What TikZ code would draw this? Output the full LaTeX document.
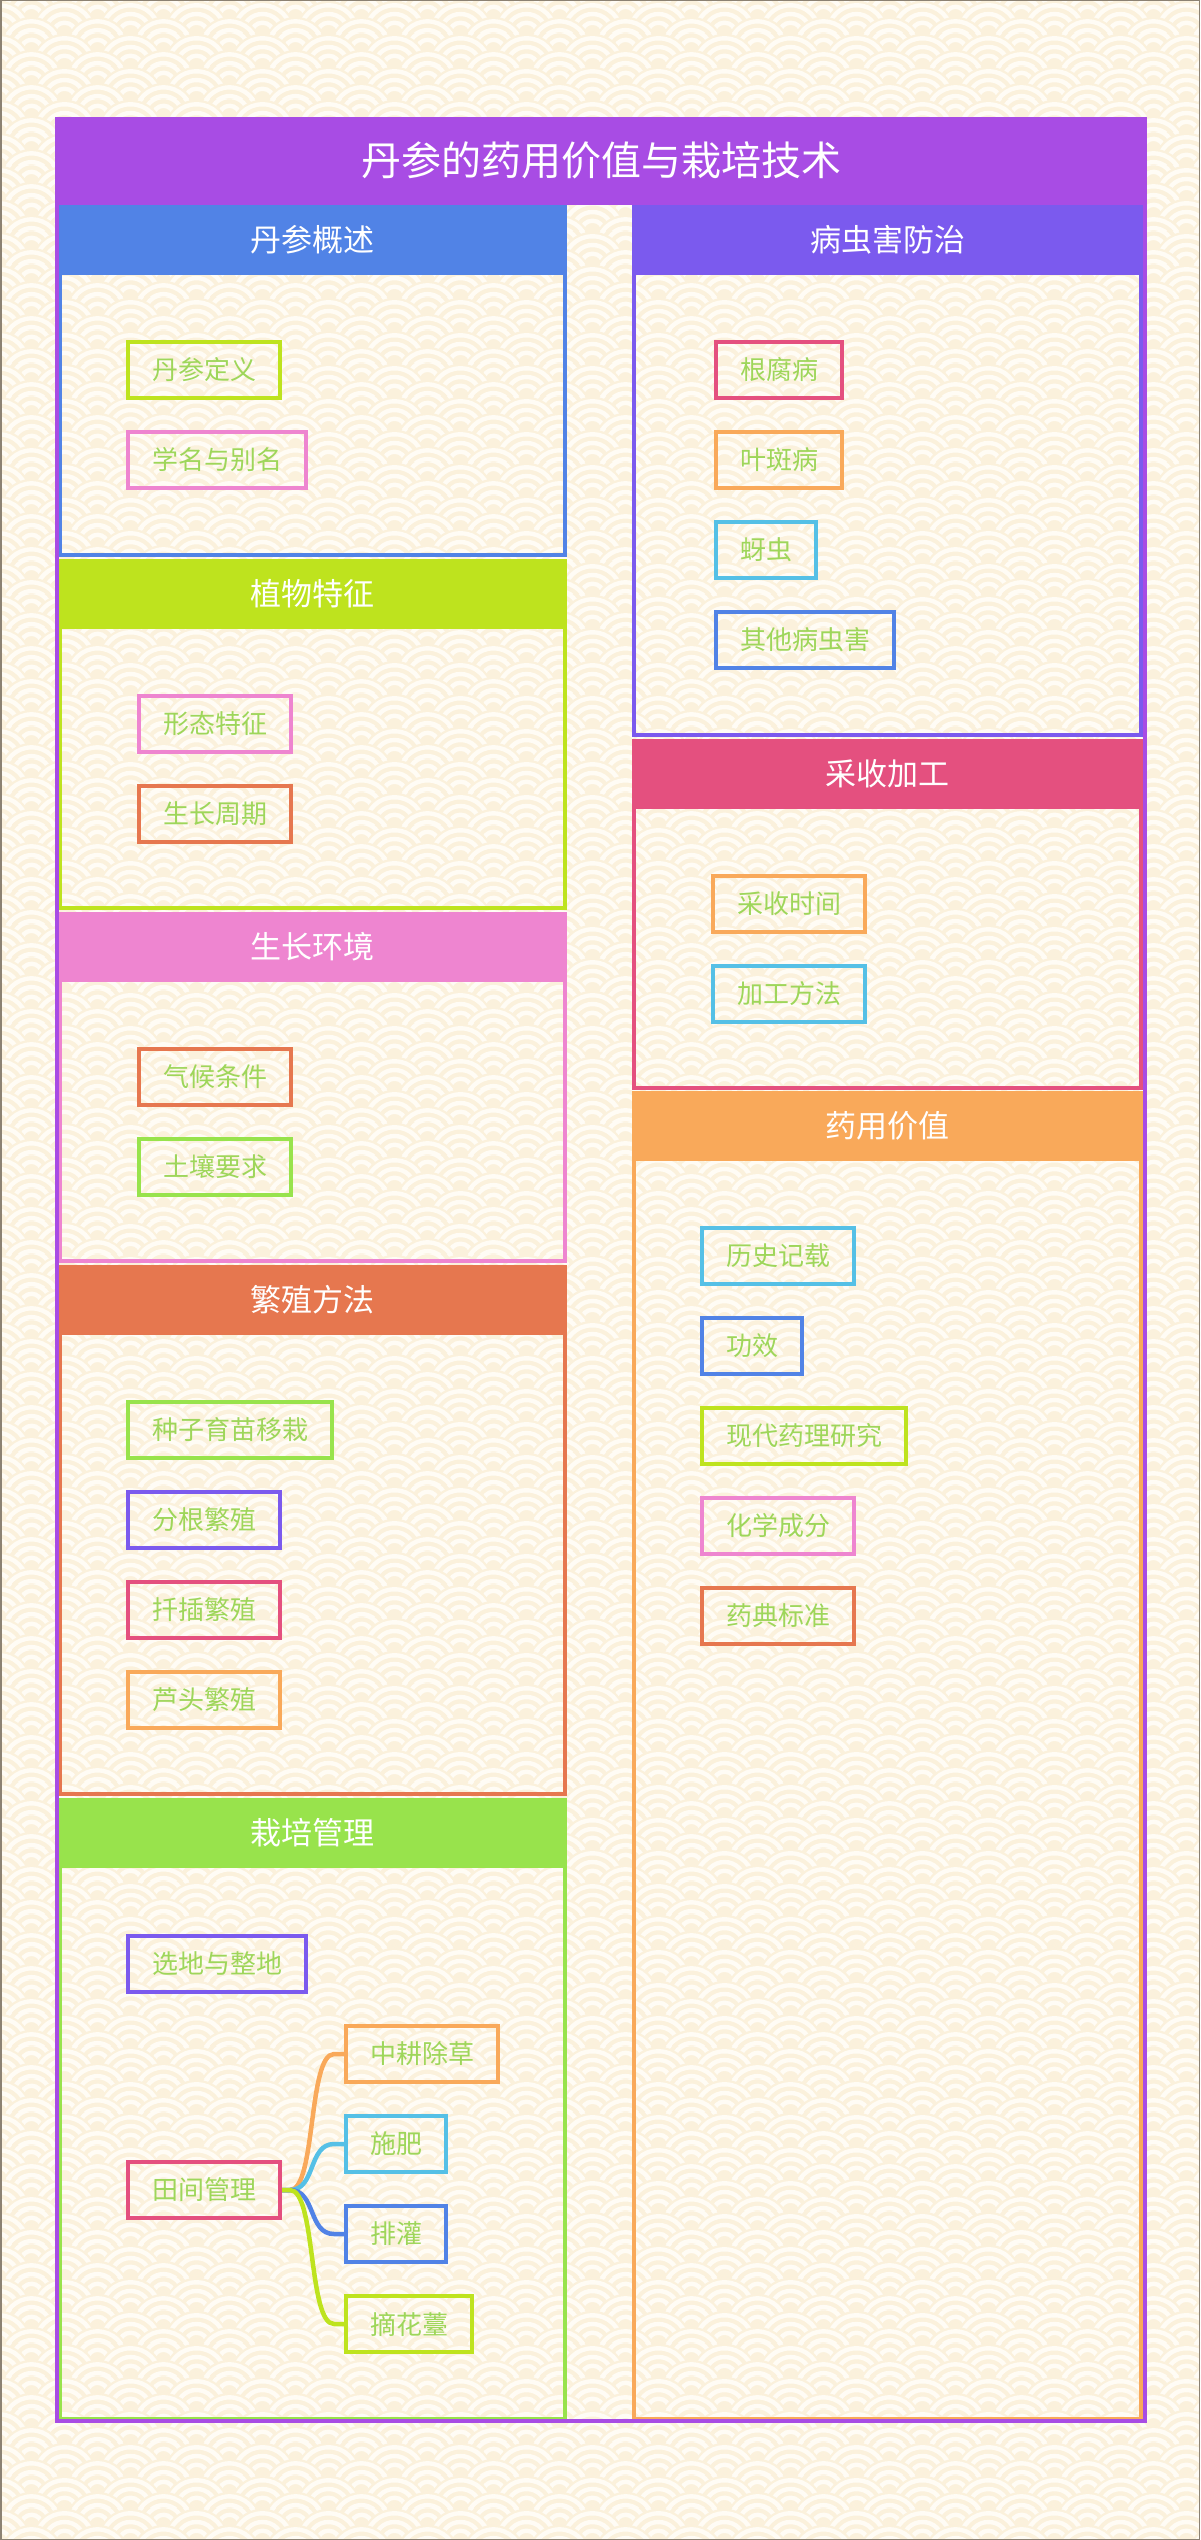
\documentclass[tikz,border=0pt]{standalone}
\usepackage{fontspec}
\setmainfont{Noto Sans CJK SC}
\usetikzlibrary{patterns,calc}

\definecolor{cpurple}{HTML}{A84CE4}
\definecolor{cblue}{HTML}{5183E6}
\definecolor{clime}{HTML}{BEE31E}
\definecolor{cpink}{HTML}{EE85D0}
\definecolor{cred}{HTML}{E6774F}
\definecolor{cgreen}{HTML}{98E34C}
\definecolor{cviolet}{HTML}{7B5AEE}
\definecolor{ccrimson}{HTML}{E4507F}
\definecolor{corange}{HTML}{F9A95A}
\definecolor{ccyan}{HTML}{55C0E6}
\definecolor{ctext}{HTML}{9ED65A}
\definecolor{seicream}{HTML}{FBF1DC}
\definecolor{seiwhite}{HTML}{FFFCF5}
\definecolor{cedge}{HTML}{8C8273}

\newcommand\seiscale[2]{%
  \pgfpathcircle{\pgfpoint{#1pt}{#2pt}}{33pt}%
  \pgfsetfillcolor{seicream}\pgfusepath{fill}%
  \pgfsetstrokecolor{seiwhite}\pgfsetlinewidth{4.5pt}%
  \pgfpathcircle{\pgfpoint{#1pt}{#2pt}}{28.5pt}\pgfusepath{stroke}%
  \pgfpathcircle{\pgfpoint{#1pt}{#2pt}}{19.5pt}\pgfusepath{stroke}%
  \pgfpathcircle{\pgfpoint{#1pt}{#2pt}}{10.5pt}\pgfusepath{stroke}%
}
\pgfdeclarepatterninherentlycolored{seigaiha}{\pgfpointorigin}{\pgfqpoint{66pt}{33pt}}{\pgfqpoint{66pt}{33pt}}{%
  \seiscale{0}{66}\seiscale{66}{66}%
  \seiscale{-33}{49.5}\seiscale{33}{49.5}\seiscale{99}{49.5}%
  \seiscale{0}{33}\seiscale{66}{33}%
  \seiscale{-33}{16.5}\seiscale{33}{16.5}\seiscale{99}{16.5}%
  \seiscale{0}{0}\seiscale{66}{0}%
  \seiscale{-33}{-16.5}\seiscale{33}{-16.5}\seiscale{99}{-16.5}%
  \seiscale{0}{-33}\seiscale{66}{-33}%
}

\tikzset{
  item/.style={draw=#1, line width=4pt, text=ctext, font=\fontsize{26}{30}\selectfont,
    inner xsep=24pt, inner ysep=0pt, minimum height=56pt, anchor=west},
  headtext/.style={text=white, font=\fontsize{31}{36}\selectfont, inner sep=0pt},
  link/.style={line width=4.5pt, draw=#1},
}

\begin{document}
\begin{tikzpicture}[x=1pt,y=-1pt]
\useasboundingbox (0,0) rectangle (1200,2540);
\fill[seicream] (0,0) rectangle (1200,2540);
\fill[pattern=seigaiha] (0,0) rectangle (1200,2540);
\draw[cedge, line width=1.5pt] (0.75,0.75) rectangle (1199.25,2539.25);

% left column panels
\foreach \ya/\yb/\col/\txt/\nm in {205/557/cblue/丹参概述/h1, 559/910/clime/植物特征/h2, 912/1263/cpink/生长环境/h3, 1265/1796/cred/繁殖方法/h4, 1798/2421/cgreen/栽培管理/h5}{
  \draw[draw=\col, line width=4pt] (60,\ya+2) rectangle (565,\yb-2);
  \fill[\col] (58,\ya) rectangle (567,\ya+70);
  \node[headtext] (\nm) at (312.5,\ya+35) {\txt};
}
% right column panels
\foreach \ya/\yb/\col/\txt/\nm in {205/737/cviolet/病虫害防治/g1, 739/1090/ccrimson/采收加工/g2, 1091/2421/corange/药用价值/g3}{
  \draw[draw=\col, line width=4pt] (634,\ya+2) rectangle (1141,\yb-2);
  \fill[\col] (632,\ya) rectangle (1143,\ya+70);
  \node[headtext] (\nm) at (887.5,\ya+35) {\txt};
}

% outer frame and title
\draw[cpurple, line width=4pt] (57,119) rectangle (1145,2421);
\fill[cpurple] (55,117) rectangle (1147,205);
\node[text=white, font=\fontsize{40}{48}\selectfont, inner sep=0pt] (title) at (601,160) {丹参的药用价值与栽培技术};

% panel 1
\node[item=clime] (a1) at (126,370) {丹参定义};
\node[item=cpink] (a2) at (126,460) {学名与别名};
% panel 2
\node[item=cpink] (b1) at (137,724) {形态特征};
\node[item=cred] (b2) at (137,814) {生长周期};
% panel 3
\node[item=cred] (e1) at (137,1077) {气候条件};
\node[item=cgreen] (e2) at (137,1167) {土壤要求};
% panel 4
\node[item=cgreen] (d1) at (126,1430) {种子育苗移栽};
\node[item=cviolet] (d2) at (126,1520) {分根繁殖};
\node[item=ccrimson] (d3) at (126,1610) {扦插繁殖};
\node[item=corange] (d4) at (126,1700) {芦头繁殖};
% panel 5
\node[item=cviolet] (f1) at (126,1964) {选地与整地};
\node[item=ccrimson] (tj) at (126,2190) {田间管理};
\node[item=corange] (c1) at (344,2054) {中耕除草};
\node[item=ccyan] (c2) at (344,2144) {施肥};
\node[item=cblue] (c3) at (344,2234) {排灌};
\node[item=clime] (c4) at (344,2324) {摘花薹};
\foreach \c/\col in {c1/corange, c2/ccyan, c3/cblue, c4/clime}{
  \draw[link=\col] (tj.east) -- ($(tj.east)+(8,0)$) .. controls ($(tj.east)+(34,0)$) and ($(\c.west)+(-36,0)$) .. ($(\c.west)+(-10,0)$) -- (\c.west);
}
% right panel 1
\node[item=ccrimson] (r1) at (714,370) {根腐病};
\node[item=corange] (r2) at (714,460) {叶斑病};
\node[item=ccyan] (r3) at (714,550) {蚜虫};
\node[item=cblue] (r4) at (714,640) {其他病虫害};
% right panel 2
\node[item=corange] (s1) at (711,904) {采收时间};
\node[item=ccyan] (s2) at (711,994) {加工方法};
% right panel 3
\node[item=ccyan] (t1) at (700,1256) {历史记载};
\node[item=cblue] (t2) at (700,1346) {功效};
\node[item=clime] (t3) at (700,1436) {现代药理研究};
\node[item=cpink] (t4) at (700,1526) {化学成分};
\node[item=cred] (t5) at (700,1616) {药典标准};
\end{tikzpicture}
\end{document}
